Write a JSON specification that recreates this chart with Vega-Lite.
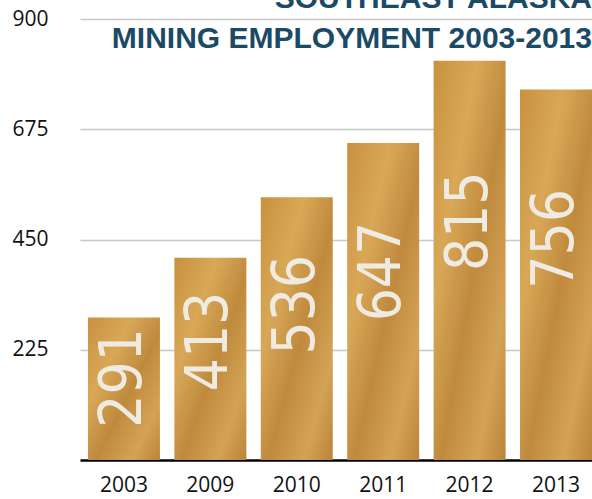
{
  "$schema": "https://vega.github.io/schema/vega-lite/v6.json",
  "width": 512,
  "height": 441,
  "autosize": {"type": "none"},
  "padding": {"left": 80, "top": 19, "right": 0, "bottom": 39},
  "background": "white",
  "title": {
    "text": ["SOUTHEAST ALASKA", "MINING EMPLOYMENT 2003-2013"],
    "anchor": "end",
    "frame": "group",
    "font": "Liberation Sans",
    "fontWeight": "bold",
    "fontSize": 30,
    "lineHeight": 40,
    "color": "#1b4a67",
    "offset": -70,
    "baseline": "alphabetic"
  },
  "data": {
    "values": [
      {"year": "2003", "employment": 291},
      {"year": "2009", "employment": 413},
      {"year": "2010", "employment": 536},
      {"year": "2011", "employment": 647},
      {"year": "2012", "employment": 815},
      {"year": "2013", "employment": 756}
    ]
  },
  "config": {
    "view": {"stroke": null},
    "axis": {"labelFont": "Open Sans", "labelFontSize": 21, "labelColor": "#111111"}
  },
  "layer": [
    {
      "mark": {
        "type": "bar",
        "color": {
          "gradient": "linear",
          "x1": 0, "y1": 0, "x2": 1, "y2": 1,
          "stops": [
            {"offset": 0, "color": "#c8913f"},
            {"offset": 0.3, "color": "#d8a857"},
            {"offset": 0.55, "color": "#c08a3d"},
            {"offset": 0.8, "color": "#d3a355"},
            {"offset": 1, "color": "#bb8439"}
          ]
        }
      },
      "encoding": {
        "x": {
          "field": "year", "type": "ordinal",
          "scale": {"paddingInner": 0.167, "paddingOuter": 0.046, "align": 1},
          "axis": {
            "title": null, "labelAngle": 0, "ticks": false,
            "domainColor": "#000000", "domainWidth": 2.5,
            "labelPadding": 14
          }
        },
        "y": {
          "field": "employment", "type": "quantitative",
          "scale": {"domain": [0, 900], "nice": false},
          "axis": {
            "title": null, "values": [225, 450, 675, 900],
            "domain": false, "ticks": false, "labelPadding": 32,
            "gridColor": "#c8c8c8", "gridWidth": 1.5
          }
        }
      }
    },
    {
      "mark": {
        "type": "text",
        "angle": 270,
        "align": "center",
        "baseline": "middle",
        "font": "DejaVu Sans Condensed",
        "fontSize": 58,
        "color": "#efebe2",
        "dx": -5
      },
      "encoding": {
        "x": {"field": "year", "type": "ordinal"},
        "y": {
          "field": "employment", "type": "quantitative",
          "scale": {"domain": [0, 1475], "nice": false},
          "axis": null
        },
        "text": {"field": "employment", "type": "quantitative"}
      }
    }
  ],
  "resolve": {"scale": {"y": "independent"}}
}
